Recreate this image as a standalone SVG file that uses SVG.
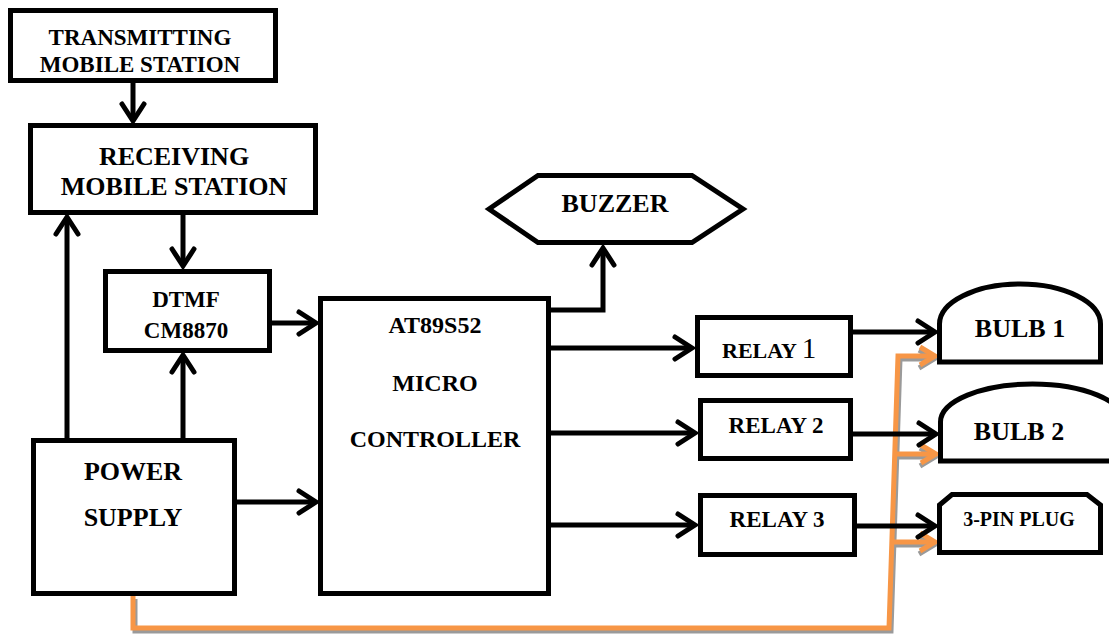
<svg xmlns="http://www.w3.org/2000/svg" width="1109" height="637" viewBox="0 0 1109 637">
<defs>
<style>
.box{fill:#fff;stroke:#000;stroke-width:5}
.t{font-family:"Liberation Serif","Times New Roman",serif;font-weight:bold;fill:#000;text-anchor:middle}
.c{fill:none;stroke:#000;stroke-width:5}
.o{fill:none;stroke:#F79646;stroke-width:5}
.s{fill:none;stroke:#9a9a9a;stroke-width:5}
</style>
<marker id="ah" markerUnits="userSpaceOnUse" markerWidth="30" markerHeight="30" viewBox="-25 -15 30 30" refX="0" refY="0" orient="auto" overflow="visible">
<path d="M-17,-11 L0,0 L-17,11" fill="none" stroke="#000" stroke-width="5" stroke-linecap="round"/>
</marker>
<marker id="ao" markerUnits="userSpaceOnUse" markerWidth="30" markerHeight="30" viewBox="-25 -15 30 30" refX="0" refY="0" orient="auto" overflow="visible">
<path d="M-15,-9 L0,0 L-15,9" fill="none" stroke="#F79646" stroke-width="5"/>
</marker>
<marker id="as" markerUnits="userSpaceOnUse" markerWidth="30" markerHeight="30" viewBox="-25 -15 30 30" refX="0" refY="0" orient="auto" overflow="visible">
<path d="M-15,-9 L0,0 L-15,9" fill="none" stroke="#9a9a9a" stroke-width="5"/>
</marker>
</defs>
<rect width="1109" height="637" fill="#fff"/>

<g id="connectors">
<g transform="translate(2,3)">
<path class="s" d="M133,596 V628 H889 L898,356 H932" marker-end="url(#as)"/>
<path class="s" d="M896,454 H933" marker-end="url(#as)"/>
<path class="s" d="M893,542 H932" marker-end="url(#as)"/>
</g>
<path class="o" d="M133,596 V628 H889 L898,356 H935" marker-end="url(#ao)"/>
<path class="o" d="M896,454 H936" marker-end="url(#ao)"/>
<path class="o" d="M893,542 H935" marker-end="url(#ao)"/>
<path class="c" d="M133,83 V121" marker-end="url(#ah)"/>
<path class="c" d="M183,215 V266" marker-end="url(#ah)"/>
<path class="c" d="M67,440 V217" marker-end="url(#ah)"/>
<path class="c" d="M183,440 V355" marker-end="url(#ah)"/>
<path class="c" d="M272,323 H316" marker-end="url(#ah)"/>
<path class="c" d="M237,502 H316" marker-end="url(#ah)"/>
<path class="c" d="M550,310 H603 V248" marker-end="url(#ah)"/>
<path class="c" d="M550,348 H692" marker-end="url(#ah)"/>
<path class="c" d="M550,433 H695" marker-end="url(#ah)"/>
<path class="c" d="M550,525 H695" marker-end="url(#ah)"/>
<path class="c" d="M853,332 H935" marker-end="url(#ah)"/>
<path class="c" d="M853,434 H936" marker-end="url(#ah)"/>
<path class="c" d="M857,526 H935" marker-end="url(#ah)"/>
</g>

<g id="transmitting">
<rect class="box" x="10.5" y="10.5" width="265" height="70"/>
<text class="t" x="140" y="45" font-size="23">TRANSMITTING</text>
<text class="t" x="140" y="72" font-size="23">MOBILE STATION</text>
</g>
<g id="receiving">
<rect class="box" x="30.5" y="125.5" width="285" height="87"/>
<text class="t" x="174" y="165" font-size="26">RECEIVING</text>
<text class="t" x="174" y="195" font-size="26">MOBILE STATION</text>
</g>
<g id="dtmf">
<rect class="box" x="105.5" y="271.5" width="164" height="79"/>
<text class="t" x="186" y="307" font-size="23">DTMF</text>
<text class="t" x="186" y="338" font-size="23">CM8870</text>
</g>
<g id="power">
<rect class="box" x="33.5" y="440.5" width="201" height="153"/>
<text class="t" x="133" y="480" font-size="26">POWER</text>
<text class="t" x="133" y="526" font-size="26">SUPPLY</text>
</g>
<g id="mcu">
<rect class="box" x="320.5" y="298.5" width="228" height="295"/>
<text class="t" x="435" y="333" font-size="24">AT89S52</text>
<text class="t" x="435" y="391" font-size="24">MICRO</text>
<text class="t" x="435" y="447" font-size="24">CONTROLLER</text>
</g>
<g id="buzzer">
<polygon class="box" points="489,209 538,175.5 692,175.5 743,209 692,242.5 538,242.5"/>
<text class="t" x="615" y="212" font-size="26">BUZZER</text>
</g>
<g id="relay1">
<rect class="box" x="697.5" y="317.5" width="153" height="58"/>
<text class="t" x="722" y="358" font-size="22" style="text-anchor:start">RELAY <tspan font-size="29" style="font-weight:normal">1</tspan></text>
</g>
<g id="relay2">
<rect class="box" x="700.5" y="400.5" width="150" height="58"/>
<text class="t" x="776" y="433" font-size="23">RELAY 2</text>
</g>
<g id="relay3">
<rect class="box" x="700.5" y="495.5" width="154" height="59"/>
<text class="t" x="777" y="527" font-size="23">RELAY 3</text>
</g>
<g id="bulb1">
<path class="box" d="M939.5,362 V324 A80.5,40 0 0 1 1100.5,324 V362 Z"/>
<text class="t" x="1020" y="337" font-size="26">BULB 1</text>
</g>
<g id="bulb2">
<path class="box" d="M940.5,461 V422 A92,38 0 0 1 1124.5,422 V461 Z"/>
<text class="t" x="1019" y="440" font-size="26">BULB 2</text>
</g>
<g id="plug">
<path class="box" d="M939.5,552.5 V505 L952,494.5 H1087 L1100.5,505 V552.5 Z"/>
<text class="t" x="1019" y="526" font-size="20">3-PIN PLUG</text>
</g>
</svg>
